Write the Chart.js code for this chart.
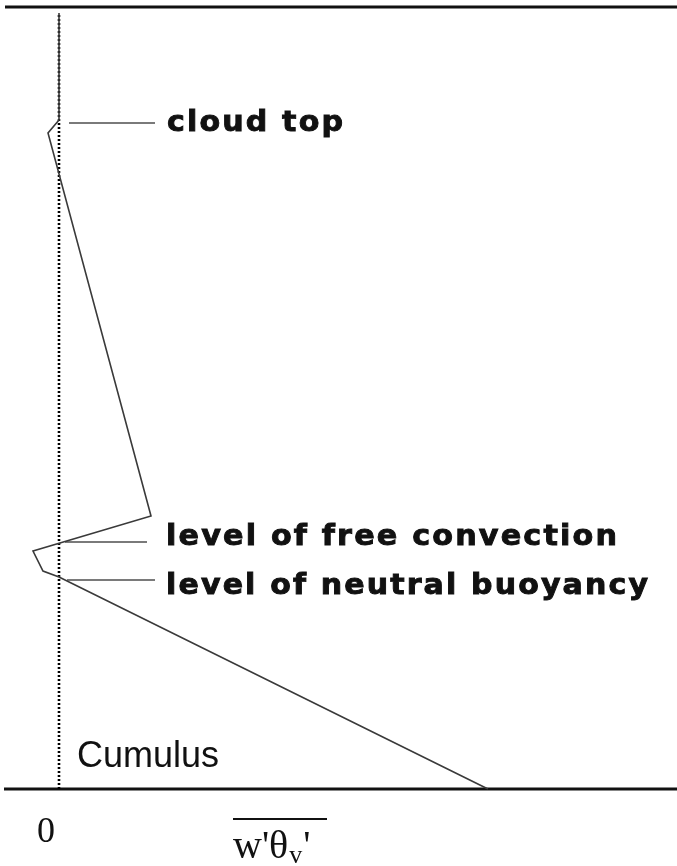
<!DOCTYPE html>
<html>
<head>
<meta charset="utf-8">
<script src="https://cdn.jsdelivr.net/npm/chart.js@4"></script>
<style>
  html, body { margin: 0; padding: 0; background: #fff; }
  #wrap { width: 677px; height: 866px; }
</style>
</head>
<body>
<div id="wrap"><canvas id="flux-chart" width="677" height="866"></canvas></div>
<script>
// 積雲層の浮力フラックス w'θv' の模式プロファイル（単位は任意）
const profileFlux   = [429, 0, -16, -26, 92, -11, 0, 0];
const profileHeight = [0, 212, 218, 238, 273, 656, 669, 776];

// ゼロ線（点線）
const zeroFlux   = [0, 0];
const zeroHeight = [0, 776];

// 上下の枠線
const frameFlux = [-54, 618];
const frameTop = 782;
const frameBottom = 0;

// 各レベルの引き出し線 [x始点, x終点, 高さ]
const levelNames = ["cloud top", "level of free convection", "level of neutral buoyancy"];
const leaderStart  = [10, 6, 8];
const leaderEnd    = [96, 88, 96];
const leaderHeight = [666, 247, 209];

const toPoints = (xs, ys) => xs.map((x, i) => ({ x, y: ys[i] }));

const datasets = [
  {
    label: "w'θv'",
    data: toPoints(profileFlux, profileHeight),
    borderColor: "#3a3a3a",
    borderWidth: 1.6,
  },
  {
    label: "zero",
    data: toPoints(zeroFlux, zeroHeight),
    borderColor: "#000",
    borderWidth: 2.6,
    borderDash: [2, 2],
  },
  {
    label: "top",
    data: toPoints(frameFlux, [frameTop, frameTop]),
    borderColor: "#111",
    borderWidth: 3,
  },
  {
    label: "bottom",
    data: toPoints([-55, 618], [frameBottom, frameBottom]),
    borderColor: "#111",
    borderWidth: 3,
  },
];
levelNames.forEach((name, i) => {
  datasets.push({
    label: name,
    data: toPoints([leaderStart[i], leaderEnd[i]], [leaderHeight[i], leaderHeight[i]]),
    borderColor: "#7a7a7a",
    borderWidth: 2,
  });
});
datasets.forEach((d) => {
  d.pointRadius = 0;
  d.fill = false;
  d.tension = 0;
  d.clip = false;
});

// 太字を横に伸ばして目標の幅に合わせる
function fitText(ctx, text, x, y, width) {
  ctx.save();
  ctx.letterSpacing = "2px";
  const w = ctx.measureText(text).width - 2;
  ctx.translate(x, y);
  ctx.scale(width / w, 1);
  ctx.lineWidth = 0.9;
  ctx.strokeStyle = ctx.fillStyle;
  ctx.fillText(text, 0, 0);
  ctx.strokeText(text, 0, 0);
  ctx.restore();
}

const labelPlugin = {
  id: "labels",
  afterDraw(chart) {
    const ctx = chart.ctx;
    ctx.save();
    ctx.fillStyle = "#111";
    ctx.textBaseline = "alphabetic";
    ctx.textAlign = "left";

    ctx.font = "bold 28px 'DejaVu Sans'";
    fitText(ctx, levelNames[0], 167, 131, 176);
    fitText(ctx, levelNames[1], 166, 545, 451);
    fitText(ctx, levelNames[2], 166, 594, 482);

    ctx.font = "36px 'Liberation Sans'";
    ctx.fillText("Cumulus", 77, 767);

    ctx.font = "36px 'Liberation Serif'";
    ctx.fillText("0", 37, 842);

    // 横軸の記号 w'θv' と上線
    let x = 233;
    ctx.font = "40px 'Liberation Serif'";
    ctx.fillText("w'θ", x, 858);
    x += ctx.measureText("w'θ").width;
    ctx.font = "26px 'Liberation Serif'";
    ctx.fillText("v", x + 1, 863);
    x += ctx.measureText("v").width + 2;
    ctx.font = "40px 'Liberation Serif'";
    ctx.fillText("'", x, 858);
    ctx.strokeStyle = "#111";
    ctx.lineWidth = 2;
    ctx.beginPath();
    ctx.moveTo(233, 819);
    ctx.lineTo(327, 819);
    ctx.stroke();
    ctx.restore();
  },
};

new Chart(document.getElementById("flux-chart"), {
  type: "line",
  data: { datasets },
  options: {
    responsive: false,
    animation: false,
    layout: { padding: { left: 4, right: 0, top: 7, bottom: 77 } },
    plugins: { legend: { display: false }, tooltip: { enabled: false } },
    scales: {
      x: { type: "linear", min: -55, max: 618, display: false },
      y: { type: "linear", min: 0, max: 782, display: false },
    },
  },
  plugins: [labelPlugin],
});
</script>
</body>
</html>
